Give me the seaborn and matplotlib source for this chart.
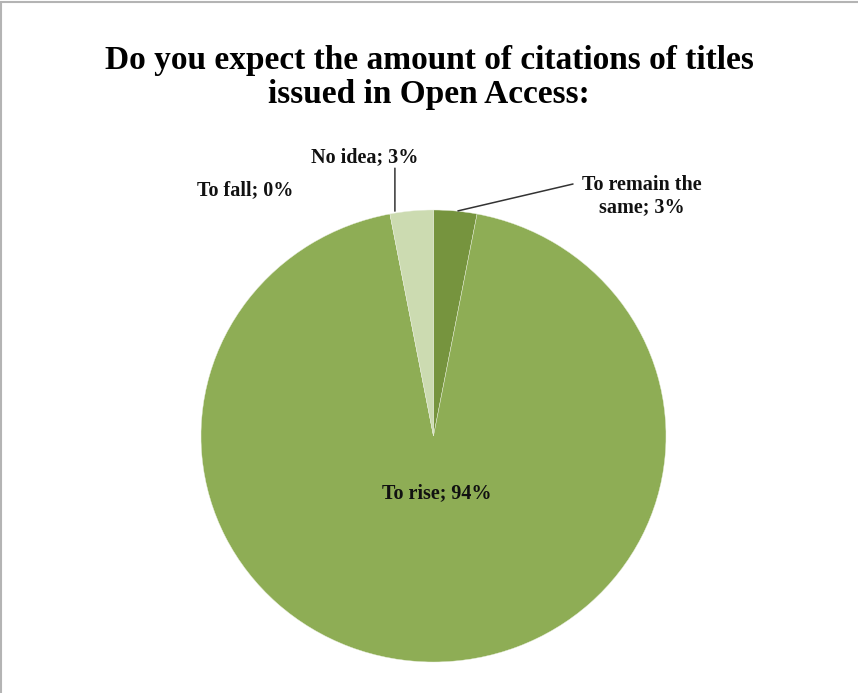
import matplotlib
matplotlib.use("Agg")
import matplotlib.pyplot as plt
import seaborn as sns
from matplotlib.patches import Rectangle

# data
categories = ["To remain the same", "To rise", "To fall", "No idea"]
shares = [3, 94, 0, 3]
label_texts = ["To remain the\nsame; 3%", "To rise; 94%", "To fall; 0%", "No idea; 3%"]
slice_colors = ["#76943E", "#8EAD55", "#8EAD55", "#CCDBB1"]

sns.set_theme(style="white")
plt.rcParams["font.family"] = ["Liberation Serif", "DejaVu Serif"]

fig = plt.figure(figsize=(8.58, 6.93), dpi=100)
fig.patch.set_facecolor("white")

# thin grey frame like the exported chart area
fig.patches.append(Rectangle((0.001, -0.01), 1.05, 1.007, transform=fig.transFigure,
                             fill=False, edgecolor="#B4B4B4", linewidth=1.5))

ax = fig.add_axes([201 / 858, 31 / 693, 465 / 858, 452 / 693])
wedges, _ = ax.pie(shares, colors=sns.color_palette(slice_colors), startangle=90,
                   counterclock=False, radius=1.0,
                   wedgeprops=dict(linewidth=0.3, edgecolor="#E8EEDC"))
ax.set_aspect("auto")
ax.set_xlim(-1, 1)
ax.set_ylim(-1, 1)
ax.axis("off")

lab_kw = dict(fontsize=14.5, fontweight="bold", color="#111111", ha="center", va="center")
line_kw = dict(arrowstyle="-", color="#333333", lw=1.1, shrinkA=0, shrinkB=0)

ax.text(0.016, -0.252, label_texts[1], **lab_kw)
ax.text(-0.81, 1.088, label_texts[2], **lab_kw)
ax.text(-0.295, 1.235, label_texts[3], **lab_kw)
ax.annotate("", xy=(-0.166, 0.995), xytext=(-0.166, 1.185),
            arrowprops=line_kw, annotation_clip=False)
ax.annotate("", xy=(0.105, 0.996), xytext=(0.60, 1.115),
            arrowprops=line_kw, annotation_clip=False)
ax.text(0.895, 1.062, label_texts[0], linespacing=1.1, **lab_kw)

fig.text(0.5, 0.888, "Do you expect the amount of citations of titles\nissued in Open Access:",
         ha="center", va="center", fontsize=24, fontweight="bold", linespacing=1.13,
         color="#000000")

fig.savefig("out.png", dpi=100, facecolor="white")
